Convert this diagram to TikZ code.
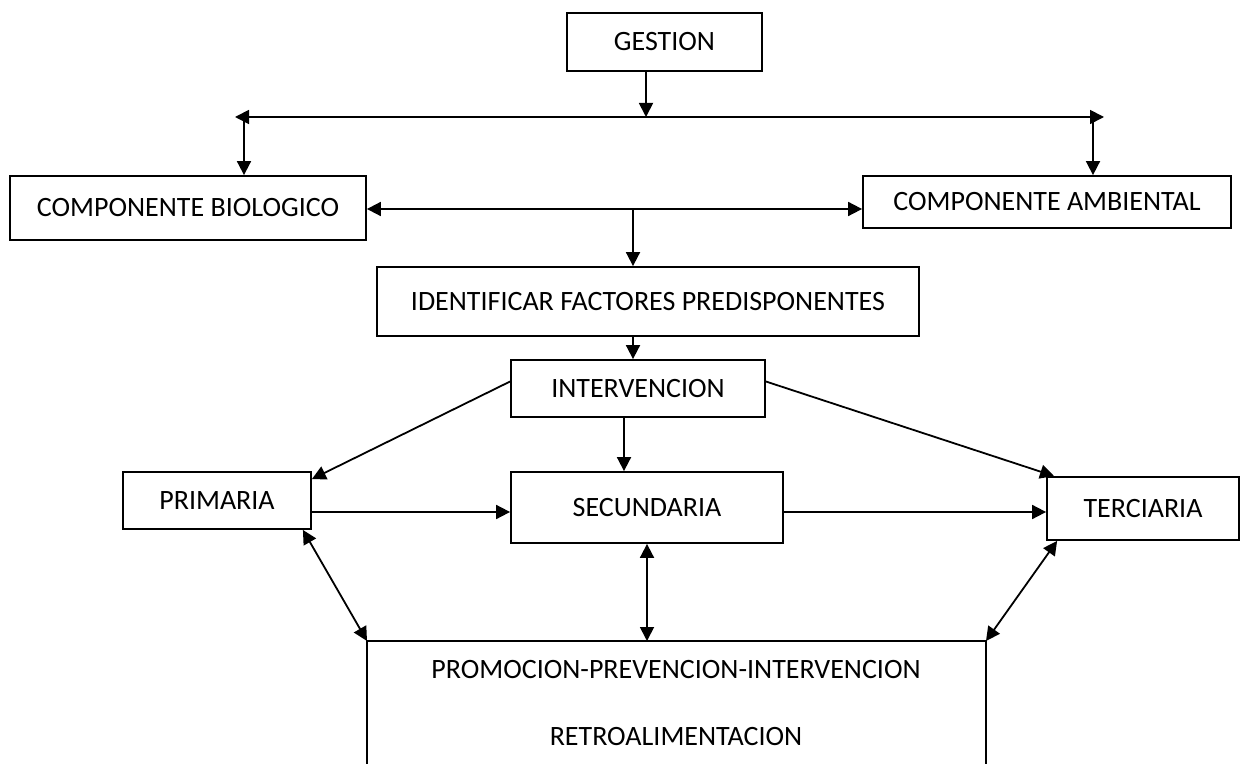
\documentclass[tikz,border=0pt]{standalone}
\usepackage{fontspec}
\setmainfont{Carlito}
\usetikzlibrary{arrows.meta, calc, positioning}

\begin{document}
\begin{tikzpicture}[
    x=0.5pt, y=-0.5pt,
    box/.style={draw, line width=0.9pt, inner sep=0pt, align=center,
                font=\fontsize{14}{17}\selectfont},
    txt/.style={inner sep=0pt, font=\fontsize{14}{17}\selectfont},
    flow/.style={-{Triangle[length=7pt, width=7pt]}, line width=0.9pt},
    both/.style={{Triangle[length=7pt, width=7pt]}-{Triangle[length=7pt, width=7pt]},
                 line width=0.9pt},
]
\useasboundingbox (0,0) rectangle (1247,764);

\node[box, minimum width=97.5pt, minimum height=29pt] (gestion) at (664.5,42) {GESTION};
\node[box, minimum width=178pt, minimum height=32pt] (bio) at (188,208) {COMPONENTE BIOLOGICO};
\node[box, minimum width=184pt, minimum height=26pt] (amb) at (1047,202) {COMPONENTE AMBIENTAL};
\node[box, minimum width=271pt, minimum height=34.5pt] (ident) at (648,301.5) {IDENTIFICAR FACTORES PREDISPONENTES};
\node[box, minimum width=127pt, minimum height=28.5pt] (interv) at (638,388.5) {INTERVENCION};
\node[box, minimum width=94pt, minimum height=28.5pt] (prim) at (217,500.5) {PRIMARIA};
\node[box, minimum width=136pt, minimum height=35.5pt] (sec) at (647,507.5) {SECUNDARIA};
\node[box, minimum width=96pt, minimum height=31.5pt] (ter) at (1143,508.5) {TERCIARIA};

% open box at the bottom
\coordinate (retroL) at (367,641);
\coordinate (retroR) at (986,641);
\draw[line width=0.9pt] (367,764) -- (retroL) -- (retroR) -- (986,764);
\node[txt] (promo) at (676,670) {PROMOCION-PREVENCION-INTERVENCION};
\node[txt] (retro) at (676,737) {RETROALIMENTACION};

% top branching
\coordinate (hub) at (646,117);
\coordinate (hubL) at (235,117);
\coordinate (hubR) at (1104,117);
\coordinate (toBio) at (244,117);
\coordinate (toAmb) at (1093,117);
\draw[flow] (gestion.south -| hub) -- (hub);
\draw[flow] (hub) -- (hubL);
\draw[flow] (hub) -- (hubR);
\draw[flow] (toBio) -- (toBio |- bio.north);
\draw[flow] (toAmb) -- (toAmb |- amb.north);

\coordinate (split) at (633,209);
\draw[both] (split -| bio.east) -- (split -| amb.west);
\draw[flow] (split) -- (split |- ident.north);
\draw[flow] (split |- ident.south) -- (split |- interv.north);

\draw[flow] ([yshift=3.5pt]interv.west) -- ([yshift=-4pt]prim.north east);
\draw[flow] ([xshift=-7pt]interv.south) -- ([xshift=-7pt]interv.south |- sec.north);
\draw[flow] ([yshift=3.5pt]interv.east) -- ([xshift=4pt]ter.north west);

\draw[flow] ([yshift=-5.75pt]prim.east) -- ([yshift=-5.75pt]prim.east -| sec.west);
\draw[flow] ([yshift=-2.25pt]sec.east) -- ([yshift=-2.25pt]sec.east -| ter.west);

\draw[both] ([xshift=-4.5pt]prim.south east) -- (retroL);
\draw[both] (sec.south) -- (sec.south |- retroL);
\draw[both] ([xshift=5.5pt]ter.south west) -- (retroR);
\end{tikzpicture}
\end{document}
